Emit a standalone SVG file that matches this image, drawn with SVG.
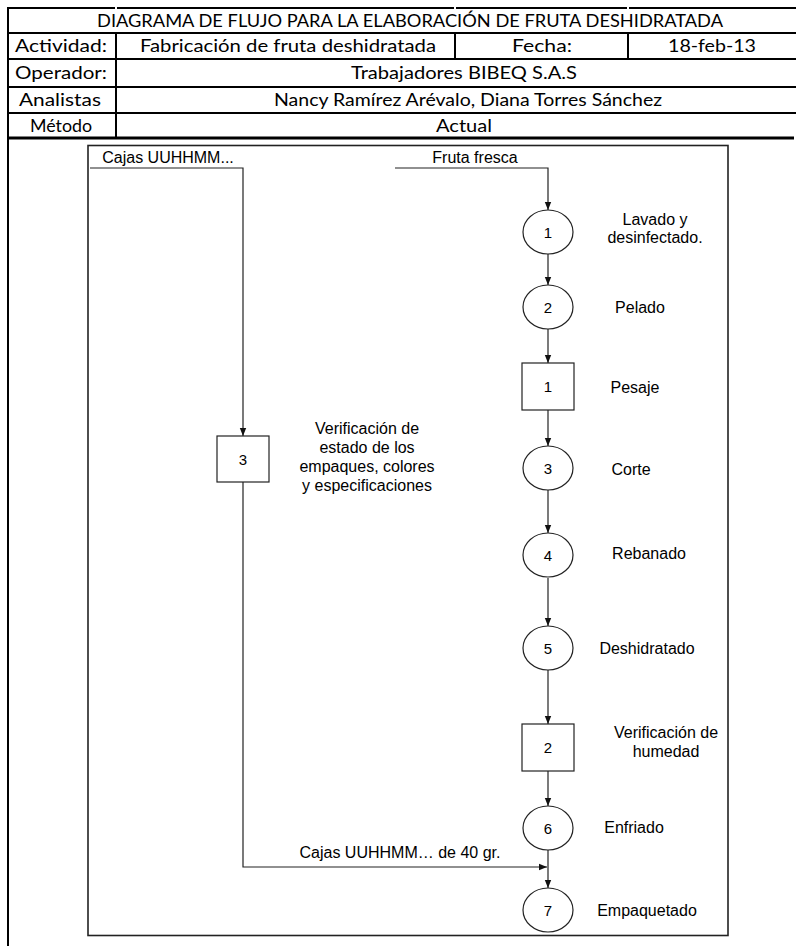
<svg xmlns="http://www.w3.org/2000/svg" width="796" height="946" viewBox="0 0 796 946">
<style>
.hdr{font-family:Lato,"Open Sans","Liberation Sans",sans-serif;font-size:17px;fill:#000;text-anchor:middle}
.tl{stroke:#000;stroke-width:2;fill:none}
.lbl{font-family:"Liberation Sans",Arial,sans-serif;font-size:16px;fill:#000;text-anchor:middle}
.num{font-family:"Liberation Sans",Arial,sans-serif;font-size:15px;fill:#000;text-anchor:middle}
.shape{fill:#fff;stroke:#222;stroke-width:1.2}
.conn{fill:none;stroke:#222;stroke-width:1.2}
</style>
<defs>
<marker id="arr" markerUnits="userSpaceOnUse" markerWidth="8" markerHeight="8" viewBox="0 0 8 8" refX="8" refY="4" orient="auto">
<path d="M0,0.8 L8,4 L0,7.2 Z" fill="#111"/>
</marker>
</defs>
<rect width="796" height="946" fill="#fff"/>
<g id="table">
<path class="tl" d="M8,8 H115 M117,8 H454 M456,8 H627 M629,8 H796"/>
<path class="tl" d="M8,7 V946"/>
<path class="tl" d="M8,33 H796 M8,59 H796 M8,87 H796 M8,113 H796"/>
<path d="M8,138 H794" stroke="#000" stroke-width="3"/>
<path class="tl" d="M116,33 V138 M455,33 V59 M628,33 V59"/>
<text class="hdr" x="410" y="26.5" textLength="626" lengthAdjust="spacingAndGlyphs">DIAGRAMA DE FLUJO PARA LA ELABORACIÓN DE FRUTA DESHIDRATADA</text>
<text class="hdr" x="61" y="52" textLength="92" lengthAdjust="spacingAndGlyphs">Actividad:</text>
<text class="hdr" x="288" y="52" textLength="296" lengthAdjust="spacingAndGlyphs">Fabricación de fruta deshidratada</text>
<text class="hdr" x="542" y="52" textLength="60" lengthAdjust="spacingAndGlyphs">Fecha:</text>
<text class="hdr" x="712" y="52" textLength="88" lengthAdjust="spacingAndGlyphs">18-feb-13</text>
<text class="hdr" x="61" y="79" textLength="92" lengthAdjust="spacingAndGlyphs">Operador:</text>
<text class="hdr" x="464" y="79" textLength="226" lengthAdjust="spacingAndGlyphs">Trabajadores BIBEQ S.A.S</text>
<text class="hdr" x="60" y="106" textLength="82" lengthAdjust="spacingAndGlyphs">Analistas</text>
<text class="hdr" x="468" y="106" textLength="388" lengthAdjust="spacingAndGlyphs">Nancy Ramírez Arévalo, Diana Torres Sánchez</text>
<text class="hdr" x="61" y="131.5" textLength="62" lengthAdjust="spacingAndGlyphs">Método</text>
<text class="hdr" x="464" y="131.5" textLength="56" lengthAdjust="spacingAndGlyphs">Actual</text>
</g>
<g id="frame">
<rect x="88" y="145.5" width="640" height="790" fill="none" stroke="#222" stroke-width="1.6"/>
</g>
<g id="connectors">
<path class="conn" d="M395,168 H548 V210" marker-end="url(#arr)"/>
<path class="conn" d="M90,168 H243 V436" marker-end="url(#arr)"/>
<path class="conn" d="M548,254 V285" marker-end="url(#arr)"/>
<path class="conn" d="M548,329 V363" marker-end="url(#arr)"/>
<path class="conn" d="M548,410 V446" marker-end="url(#arr)"/>
<path class="conn" d="M548,490 V533" marker-end="url(#arr)"/>
<path class="conn" d="M548,578 V626" marker-end="url(#arr)"/>
<path class="conn" d="M548,670 V724" marker-end="url(#arr)"/>
<path class="conn" d="M548,771 V806" marker-end="url(#arr)"/>
<path class="conn" d="M548,850 V888" marker-end="url(#arr)"/>
<path class="conn" d="M243,482 V867 H547" marker-end="url(#arr)"/>
<text class="lbl" x="168" y="163">Cajas UUHHMM...</text>
<text class="lbl" x="475" y="163">Fruta fresca</text>
<text class="lbl" x="400" y="858">Cajas UUHHMM… de 40 gr.</text>
</g>
<g id="op1"><ellipse class="shape" cx="548" cy="232" rx="25" ry="22"/><text class="num" x="548" y="237.5">1</text><text class="lbl" x="655" y="225">Lavado y</text><text class="lbl" x="655" y="243">desinfectado.</text></g>
<g id="op2"><ellipse class="shape" cx="548" cy="307" rx="25" ry="22"/><text class="num" x="548" y="312.5">2</text><text class="lbl" x="640" y="313">Pelado</text></g>
<g id="insp1"><rect class="shape" x="522" y="363" width="52" height="47"/><text class="num" x="548" y="392">1</text><text class="lbl" x="635" y="393">Pesaje</text></g>
<g id="op3"><ellipse class="shape" cx="548" cy="468" rx="25" ry="22"/><text class="num" x="548" y="473.5">3</text><text class="lbl" x="631" y="475">Corte</text></g>
<g id="op4"><ellipse class="shape" cx="548" cy="555" rx="25" ry="22"/><text class="num" x="548" y="560.5">4</text><text class="lbl" x="649" y="559">Rebanado</text></g>
<g id="op5"><ellipse class="shape" cx="548" cy="648" rx="25" ry="22"/><text class="num" x="548" y="653.5">5</text><text class="lbl" x="647" y="654">Deshidratado</text></g>
<g id="insp2"><rect class="shape" x="522" y="724" width="52" height="47"/><text class="num" x="548" y="753">2</text><text class="lbl" x="666" y="738">Verificación de</text><text class="lbl" x="666" y="757">humedad</text></g>
<g id="op6"><ellipse class="shape" cx="548" cy="828" rx="25" ry="22"/><text class="num" x="548" y="833.5">6</text><text class="lbl" x="634" y="833">Enfriado</text></g>
<g id="op7"><ellipse class="shape" cx="548" cy="910" rx="25" ry="22"/><text class="num" x="548" y="915.5">7</text><text class="lbl" x="647" y="916">Empaquetado</text></g>
<g id="insp3"><rect class="shape" x="217" y="436" width="52" height="46"/><text class="num" x="243" y="464.5">3</text><text class="lbl" x="367" y="434">Verificación de</text><text class="lbl" x="367" y="453">estado de los</text><text class="lbl" x="367" y="472">empaques, colores</text><text class="lbl" x="367" y="491">y especificaciones</text></g>
</svg>
